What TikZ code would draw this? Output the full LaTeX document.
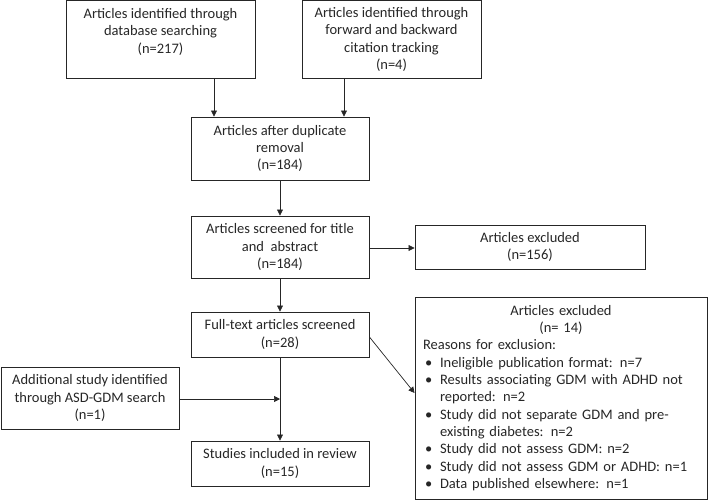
\documentclass[tikz,border=0pt]{standalone}
\usepackage{fontspec}
\setmainfont{Carlito}
\usetikzlibrary{arrows.meta}
\newcommand\bul[1]{\par\noindent\makebox[17pt][l]{\hspace{2pt}\textbullet}#1\par}
\newcommand\bulcont[1]{\par\noindent\makebox[17pt][l]{\strut}#1\par}
\begin{document}
\begin{tikzpicture}[x=1pt,y=-1pt,
 box/.style={draw=black!85, line width=0.9pt, rectangle, align=center, inner sep=2pt,
   font=\fontsize{14.5}{17.3}\selectfont, text=black!85},
 bigbox/.style={draw=black!85, line width=0.9pt, rectangle, inner sep=2pt,
   font=\fontsize{14.5}{17.3}\selectfont, text=black!85},
 arr/.style={draw=black!85, line width=0.7pt, -{Triangle[length=6pt,width=6pt]}}]
\useasboundingbox (0,0) rectangle (708,500);
\node[box, minimum width=189pt, minimum height=78pt] (db) at (160.5,39.5) {Articles identified through\\database searching\\(n=217)\\\mbox{}};
\node[box, minimum width=179pt, minimum height=78pt] (fw) at (391.5,39.5) {Articles identified through\\forward and backward\\citation tracking\\(n=4)};
\node[box, minimum width=178pt, minimum height=63pt] (dup) at (280,148.5) {Articles after duplicate\\removal\\(n=184)};
\node[box, minimum width=178pt, minimum height=62pt] (scr) at (280,247) {Articles screened for title\\and\ \ abstract\\(n=184)};
\node[box, minimum width=230pt, minimum height=44pt] (ex1) at (530,247) {Articles excluded\\(n=156)};
\node[box, minimum width=178pt, minimum height=45pt] (ft) at (280,334.5) {Full-text articles screened\\(n=28)};
\node[box, minimum width=178pt, minimum height=45pt] (st) at (280,463.5) {Studies included in review\\(n=15)};
\node[box, minimum width=178pt, minimum height=62pt] (add) at (90,398) {Additional study identified\\through ASD-GDM search\\(n=1)};
\node[bigbox, text width=276pt, inner xsep=8pt, minimum height=202pt] (ex2) at (561,398) {%
{\centering Articles excluded\par (n= 14)\par}%
{\raggedright Reasons for exclusion:\par
\bul{Ineligible publication format: n=7}
\bul{Results associating GDM with ADHD not}
\bulcont{reported: n=2}
\bul{Study did not separate GDM and pre-}
\bulcont{existing diabetes: n=2}
\bul{Study did not assess GDM: n=2}
\bul{Study did not assess GDM or ADHD: n=1}
\bul{Data published elsewhere: n=1}}};
\coordinate (j) at (280,399);
\draw[arr] (db.south -| 214,0) -- (dup.north -| 214,0);
\draw[arr] (fw.south -| 344,0) -- (dup.north -| 344,0);
\draw[arr] (dup) -- (scr);
\draw[arr] (scr.east |- 0,248) -- (ex1.west |- 0,248);
\draw[arr] (scr) -- (ft);
\draw[arr] (ft) -- (st);
\draw[arr] (add.east |- j) -- (j);
\draw[arr] (ft.east |- 0,337) -- (ex2.west |- 0,393);
\end{tikzpicture}
\end{document}
